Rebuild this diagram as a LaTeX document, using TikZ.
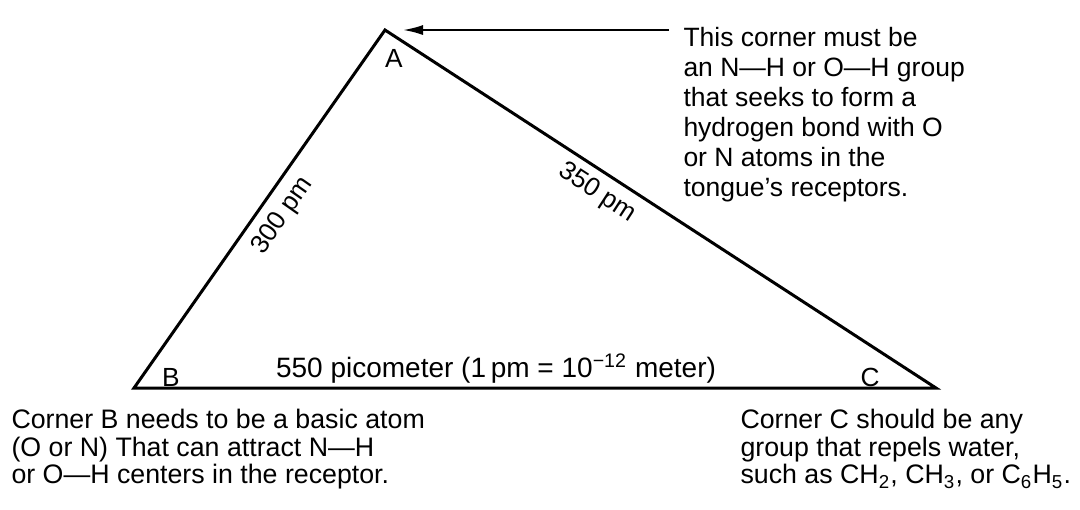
\documentclass[tikz,border=0pt]{standalone}
\usepackage{fontspec}
\setmainfont{Liberation Sans}
\usetikzlibrary{arrows.meta}

\begin{document}
\begin{tikzpicture}[
        x=0.4pt, y=-0.4pt,
        side/.style={line width=1.2pt, line join=miter},
        corner/.style={inner sep=0pt, font=\fontsize{10.5}{10}\selectfont},
        length/.style={inner sep=0pt, font=\fontsize{10.4}{10}\selectfont},
        note/.style={align=left, anchor=north west, inner sep=0pt},
        line/.style={-{Latex[length=8pt, width=4pt]}, line width=0.8pt}
    ]
        \useasboundingbox (0,0) rectangle (1080,509);

        % corners of the triangle
        \coordinate (A) at (385,30);
        \coordinate (B) at (134,388);
        \coordinate (C) at (936,388);
        \draw[side] (A) -- (B) -- (C) -- cycle;

        \node[corner] (la) at (394,58) {A};
        \node[corner] (lb) at (171,377) {B};
        \node[corner] (lc) at (870,377) {C};

        % side lengths
        \node[length, rotate=55] (ab) at (283,216) {300 pm};
        \node[length, rotate=-33] (ac) at (597,193) {350 pm};
        \node[inner sep=0pt, font=\fontsize{11.2}{12}\selectfont] (bc) at (496,369)
            {550 picometer (1\,pm = 10\textsuperscript{−12} meter)};

        % notes
        \node[note, font=\fontsize{10.6}{12}\selectfont] (na) at (683,27)
            {This corner must be\\an N—H or O—H group\\that seeks to form a\\hydrogen bond with O\\or N atoms in the\\tongue’s receptors.};
        \node[note, font=\fontsize{10.7}{11}\selectfont] (nb) at (11,409)
            {Corner B needs to be a basic atom\\(O or N) That can attract N—H\\or O—H centers in the receptor.};
        \node[note, font=\fontsize{10.7}{11}\selectfont] (nc) at (740,409)
            {Corner C should be any\\group that repels water,\\such as CH\textsubscript{2}, CH\textsubscript{3}, or C\textsubscript{6}H\textsubscript{5}.};

        \coordinate (from) at (669,30);
        \coordinate (tip) at (403,30);
        \draw[line] (from) -- (tip);
    \end{tikzpicture}
\end{document}
